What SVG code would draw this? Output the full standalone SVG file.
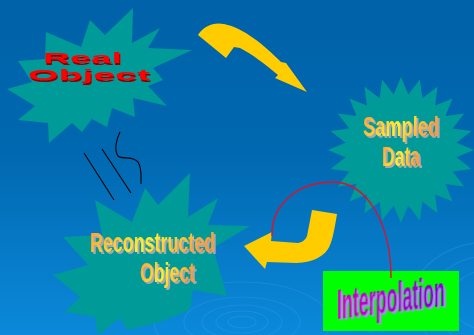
<svg xmlns="http://www.w3.org/2000/svg" width="474" height="335" viewBox="0 0 474 335">
<defs>
<linearGradient id="bg" x1="0" y1="0" x2="0" y2="1">
<stop offset="0" stop-color="#0062A8"/>
<stop offset="0.45" stop-color="#0068B0"/>
<stop offset="1" stop-color="#0B89DA"/>
</linearGradient>
<linearGradient id="gold" x1="0" y1="0" x2="1" y2="0.3">
<stop offset="0" stop-color="#FF9A3A"/>
<stop offset="0.55" stop-color="#FFF02A"/>
<stop offset="1" stop-color="#FF9A3A"/>
</linearGradient>
<linearGradient id="purp" x1="0" y1="0" x2="1" y2="0">
<stop offset="0" stop-color="#D400C8"/>
<stop offset="1" stop-color="#8000D0"/>
</linearGradient>
<filter id="shGray" x="-2%" y="-10%" width="106%" height="125%">
<feOffset in="SourceAlpha" dx="2" dy="2" result="o"/>
<feFlood flood-color="#A8A8A8"/>
<feComposite in2="o" operator="in" result="s"/>
<feMerge><feMergeNode in="s"/><feMergeNode in="SourceGraphic"/></feMerge>
</filter>
<filter id="shRed" x="-2%" y="-10%" width="106%" height="125%">
<feOffset in="SourceAlpha" dx="1" dy="1.5" result="o"/>
<feFlood flood-color="#8A0000"/>
<feComposite in2="o" operator="in" result="s"/>
<feMerge><feMergeNode in="s"/><feMergeNode in="SourceGraphic"/></feMerge>
</filter>
<filter id="shLav" x="-1%" y="-5%" width="104%" height="112%">
<feOffset in="SourceAlpha" dx="2" dy="2" result="o"/>
<feFlood flood-color="#A890F0"/>
<feComposite in2="o" operator="in" result="s"/>
<feMerge><feMergeNode in="s"/><feMergeNode in="SourceGraphic"/></feMerge>
</filter>
<style>
.star{fill:#009A98;}
.ttl{font-family:"Liberation Sans","DejaVu Sans",sans-serif;font-weight:bold;}
.gold{fill:url(#gold);filter:url(#shGray);}
.red{fill:#FF0000;filter:url(#shRed);}
.arrow{fill:#FFCC00;}
.rip{fill:none;stroke:#3AA0EE;stroke-width:1.2;opacity:0.32;}
.ink{fill:none;stroke:#000;stroke-width:1.1;}
</style>
</defs>
<rect width="474" height="335" fill="url(#bg)"/>
<g id="ripples">
<ellipse class="rip" cx="242" cy="322" rx="14" ry="6"/>
<ellipse class="rip" cx="242" cy="322" rx="26" ry="11"/>
<ellipse class="rip" cx="242" cy="322" rx="40" ry="17"/>
<ellipse class="rip" cx="242" cy="322" rx="58" ry="25"/>
<ellipse class="rip" cx="242" cy="322" rx="88" ry="40"/>
<ellipse class="rip" cx="490" cy="300" rx="40" ry="30"/>
<ellipse class="rip" cx="490" cy="300" rx="60" ry="44"/>
<ellipse class="rip" cx="490" cy="300" rx="78" ry="58"/>
</g>
<g id="node-real">
<polygon class="star" points="133,8 132,43 160,28 148,48 192,50 153,68 163,80 148,86 167,106 133,98 135,117 112,108 107,127 92,119 82,132 72,123 49,143 48,123 18,120 35,106 7,89 32,82 18,61 45,59 46,32 81,47 90,20 105,35"/>
<text class="ttl red" x="43" y="63" font-size="14" textLength="79" lengthAdjust="spacingAndGlyphs">Real</text>
<text class="ttl red" x="28" y="80" font-size="14" textLength="122" lengthAdjust="spacingAndGlyphs">Object</text>
</g>
<g id="node-sampled">
<polygon class="star" transform="translate(401,150)" points="0,-73 7.3,-55.5 18.9,-70.5 21.4,-51.7 36.5,-63.2 34.1,-44.4 51.6,-51.6 44.4,-34.1 63.2,-36.5 51.7,-21.4 70.5,-18.9 55.5,-7.3 73,0 55.5,7.3 70.5,18.9 51.7,21.4 63.2,36.5 44.4,34.1 51.6,51.6 34.1,44.4 36.5,63.2 21.4,51.7 18.9,70.5 7.3,55.5 0,73 -7.3,55.5 -18.9,70.5 -21.4,51.7 -36.5,63.2 -34.1,44.4 -51.6,51.6 -44.4,34.1 -63.2,36.5 -51.7,21.4 -70.5,18.9 -55.5,7.3 -73,0 -55.5,-7.3 -70.5,-18.9 -51.7,-21.4 -63.2,-36.5 -44.4,-34.1 -51.6,-51.6 -34.1,-44.4 -36.5,-63.2 -21.4,-51.7 -18.9,-70.5 -7.3,-55.5"/>
<text class="ttl gold" x="363" y="136" font-size="27" textLength="76" lengthAdjust="spacingAndGlyphs">Sampled</text>
<text class="ttl gold" x="382" y="166" font-size="27" textLength="38" lengthAdjust="spacingAndGlyphs">Data</text>
</g>
<g id="node-reconstructed">
<polygon class="star" points="190,173 188,217 218,198 208,225 250,226 213,248 227,296 193,290 190,310 160,322 127,330 120,318 98,335 95,317 65,312 80,297 53,275 88,265 63,237 102,235 95,200 132,222 145,188 158,205"/>
<text class="ttl gold" x="90" y="252" font-size="27" textLength="125" lengthAdjust="spacingAndGlyphs">Reconstructed</text>
<text class="ttl gold" x="140" y="282" font-size="27" textLength="55" lengthAdjust="spacingAndGlyphs">Object</text>
</g>
<g id="node-interpolation">
<rect x="323" y="271" width="136" height="60" fill="#00FF00"/>
<g transform="translate(337,319) skewY(-7)">
<text class="ttl" x="0" y="0" font-size="43" fill="url(#purp)" filter="url(#shLav)" textLength="108" lengthAdjust="spacingAndGlyphs">Interpolation</text>
</g>
</g>
<g id="connectors">
<path class="arrow" d="M198,35 C204,26 213,22 224,24 C244,28 264,45 281,62 L286,63 L307,92 L275,78 L278,75 C265,64 252,54 240,48 L234,47 L226,58 Z"/>
<path class="arrow" d="M312,210 L337,214 C334,232 332,243 328,249 C322,258 312,262 297,263 L267,262 L265,269 L244,246 L272,232 L271,241 L298,243 C303,242 306,239 307,236 Z"/>
<path d="M272,236 C271,206 296,182 333,182 C366,182 391,222 391,278" fill="none" stroke="#E0102A" stroke-width="1.4"/>
</g>
<g id="marks">
<path class="ink" d="M84,153 L114,200"/>
<path class="ink" d="M102,149 L131,193"/>
<path class="ink" d="M120,132 C116,140 114,150 118,156 C122,160 132,155 138,162 C142,168 141,176 141,184"/>
</g>
</svg>
